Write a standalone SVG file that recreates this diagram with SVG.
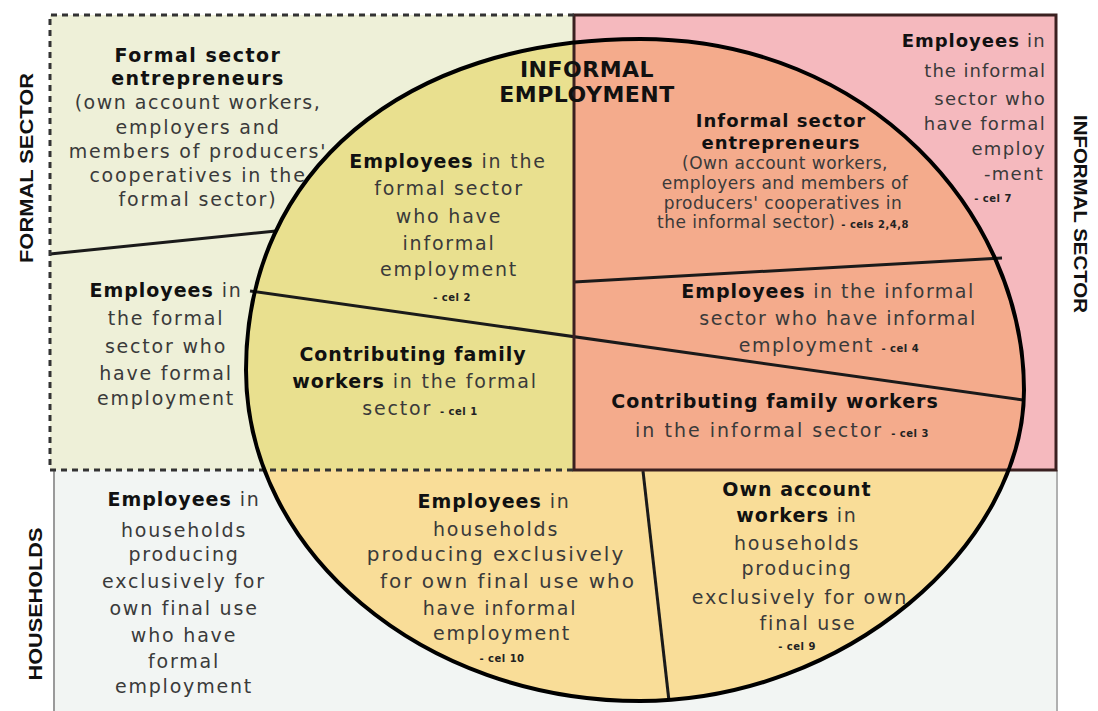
<svg xmlns="http://www.w3.org/2000/svg" width="1098" height="711" viewBox="0 0 1098 711">
<style>
text{font-family:"DejaVu Sans","Liberation Sans",sans-serif;font-size:19px;fill:#3a3a3a;letter-spacing:1.8px;text-anchor:middle}
.b{font-weight:bold;fill:#111;letter-spacing:1px}
.s{font-size:10px;font-weight:bold;fill:#222;letter-spacing:0.5px}
.v{font-family:"Liberation Sans","DejaVu Sans",sans-serif;font-weight:bold;fill:#111;letter-spacing:0}
.sm{font-size:17px;letter-spacing:0.5px}
.div{stroke:#1a1a1a;stroke-width:3;fill:none}
</style>
<defs>
<path id="oval" d="M 640,39 C 870,39 1024,215 1024,390 C 1024,545 845,701 640,701 C 423,701 246,552 246,370 C 246,171 404,39 640,39 Z"/>
<clipPath id="cf"><rect x="50" y="15" width="524" height="455"/></clipPath>
<clipPath id="ci"><rect x="574" y="15" width="482" height="455"/></clipPath>
</defs>
<rect width="1098" height="711" fill="#ffffff"/>
<g id="households-area">
<rect x="54" y="470" width="1003" height="245" fill="#f2f5f3"/>
<line x1="54" y1="470" x2="54" y2="711" stroke="#9a9a9a" stroke-width="2"/>
<line x1="1057" y1="470" x2="1057" y2="711" stroke="#b0b0b0" stroke-width="2"/>
</g>
<g id="formal-area"><rect x="50" y="15" width="524" height="455" fill="#eef0d8"/></g>
<g id="informal-area"><rect x="574" y="15" width="482" height="455" fill="#f5b9be"/></g>
<g id="informal-employment">
<use href="#oval" fill="#f9dd98"/>
<use href="#oval" fill="#e9e08f" clip-path="url(#cf)"/>
<use href="#oval" fill="#f4ab8c" clip-path="url(#ci)"/>
</g>
<g id="connectors">
<line class="div" x1="50" y1="254" x2="276" y2="231"/>
<line class="div" x1="250" y1="291" x2="1023" y2="400"/>
<line class="div" x1="574" y1="282" x2="1002" y2="258"/>
<line class="div" x1="643" y1="471" x2="669" y2="701"/>
</g>
<g id="frames">
<rect x="574" y="15" width="482" height="455" fill="none" stroke="#3a2020" stroke-width="3"/>
<path d="M 574,15 H 50 V 470 H 574" fill="none" stroke="#333" stroke-width="3" stroke-dasharray="6,5"/>
<use href="#oval" fill="none" stroke="#000" stroke-width="4"/>
</g>
<g id="label-formal-sector"><text class="v" font-size="20" transform="translate(33,168) rotate(-90)" textLength="190" lengthAdjust="spacingAndGlyphs">FORMAL SECTOR</text></g>
<g id="label-informal-sector"><text class="v" font-size="20" transform="translate(1074,214) rotate(90)" textLength="198" lengthAdjust="spacingAndGlyphs">INFORMAL SECTOR</text></g>
<g id="label-households"><text class="v" font-size="22" transform="translate(42,604) rotate(-90)" textLength="153" lengthAdjust="spacingAndGlyphs">HOUSEHOLDS</text></g>
<g id="title">
<text class="b" x="587" y="77" style="font-size:22px;letter-spacing:0.5px">INFORMAL</text>
<text class="b" x="587" y="102" style="font-size:22px;letter-spacing:0.5px">EMPLOYMENT</text>
</g>
<g id="formal-entrepreneurs">
<text class="b" x="198" y="62" style="letter-spacing:1.5px">Formal sector</text>
<text class="b" x="198" y="85" style="letter-spacing:1.5px">entrepreneurs</text>
<text x="198" y="109" style="letter-spacing:1.5px">(own account workers,</text>
<text x="198" y="134">employers and</text>
<text x="198" y="158">members of producers'</text>
<text x="198" y="182">cooperatives in the</text>
<text x="198" y="206">formal sector)</text>
</g>
<g id="cell-2">
<text x="448" y="168"><tspan class="b">Employees</tspan> in the</text>
<text x="449" y="195">formal sector</text>
<text x="449" y="223">who have</text>
<text x="449" y="250">informal</text>
<text x="449" y="276">employment</text>
<text class="s" x="452" y="301">- cel 2</text>
</g>
<g id="formal-employees">
<text x="166" y="297"><tspan class="b">Employees</tspan> in</text>
<text x="166" y="325">the formal</text>
<text x="166" y="353">sector who</text>
<text x="166" y="380">have formal</text>
<text x="166" y="405">employment</text>
</g>
<g id="cell-1">
<text class="b" x="413" y="361">Contributing family</text>
<text x="415" y="388"><tspan class="b">workers</tspan> in the formal</text>
<text x="420" y="415">sector <tspan class="s">- cel 1</tspan></text>
</g>
<g id="informal-entrepreneurs">
<text class="b" x="781" y="127" style="font-size:18px">Informal sector</text>
<text class="b" x="781" y="149" style="font-size:18px">entrepreneurs</text>
<text class="sm" x="785" y="169">(Own account workers,</text>
<text class="sm" x="785" y="189">employers and members of</text>
<text class="sm" x="783" y="209">producers' cooperatives in</text>
<text class="sm" x="783" y="228">the informal sector) <tspan class="s">- cels 2,4,8</tspan></text>
</g>
<g id="cell-7">
<text x="1046" y="47" style="font-size:18px;letter-spacing:1.3px;text-anchor:end"><tspan class="b">Employees</tspan> in</text>
<text x="1046" y="77" style="font-size:18px;letter-spacing:1px;text-anchor:end">the informal</text>
<text x="1046" y="105" style="font-size:18px;letter-spacing:1.3px;text-anchor:end">sector who</text>
<text x="1046" y="130" style="font-size:18px;letter-spacing:1.3px;text-anchor:end">have formal</text>
<text x="1046" y="155" style="font-size:18px;letter-spacing:1.3px;text-anchor:end">employ</text>
<text x="1044" y="180" style="font-size:18px;letter-spacing:1.3px;text-anchor:end">-ment</text>
<text class="s" x="993" y="202">- cel 7</text>
</g>
<g id="cell-4">
<text x="828" y="298" style="letter-spacing:1.5px"><tspan class="b">Employees</tspan> in the informal</text>
<text x="838" y="325" style="letter-spacing:1.5px">sector who have informal</text>
<text x="829" y="352" style="letter-spacing:1.5px">employment <tspan class="s">- cel 4</tspan></text>
</g>
<g id="cell-3">
<text class="b" x="775" y="408">Contributing family workers</text>
<text x="782" y="437" style="letter-spacing:2px">in the informal sector <tspan class="s">- cel 3</tspan></text>
</g>
<g id="households-formal">
<text x="184" y="506"><tspan class="b">Employees</tspan> in</text>
<text x="184" y="537">households</text>
<text x="184" y="561">producing</text>
<text x="184" y="588">exclusively for</text>
<text x="184" y="615">own final use</text>
<text x="184" y="642">who have</text>
<text x="184" y="668">formal</text>
<text x="184" y="693">employment</text>
</g>
<g id="cell-10">
<text x="494" y="508"><tspan class="b">Employees</tspan> in</text>
<text x="496" y="536">households</text>
<text x="496" y="561" style="font-size:20px;letter-spacing:2px">producing exclusively</text>
<text x="508" y="588" style="font-size:20px;letter-spacing:2px">for own final use who</text>
<text x="500" y="615">have informal</text>
<text x="502" y="640">employment</text>
<text class="s" x="502" y="662">- cel 10</text>
</g>
<g id="cell-9">
<text class="b" x="797" y="496">Own account</text>
<text x="797" y="522"><tspan class="b">workers</tspan> in</text>
<text x="797" y="550">households</text>
<text x="797" y="575">producing</text>
<text x="800" y="604">exclusively for own</text>
<text x="808" y="630">final use</text>
<text class="s" x="797" y="650">- cel 9</text>
</g>
</svg>
